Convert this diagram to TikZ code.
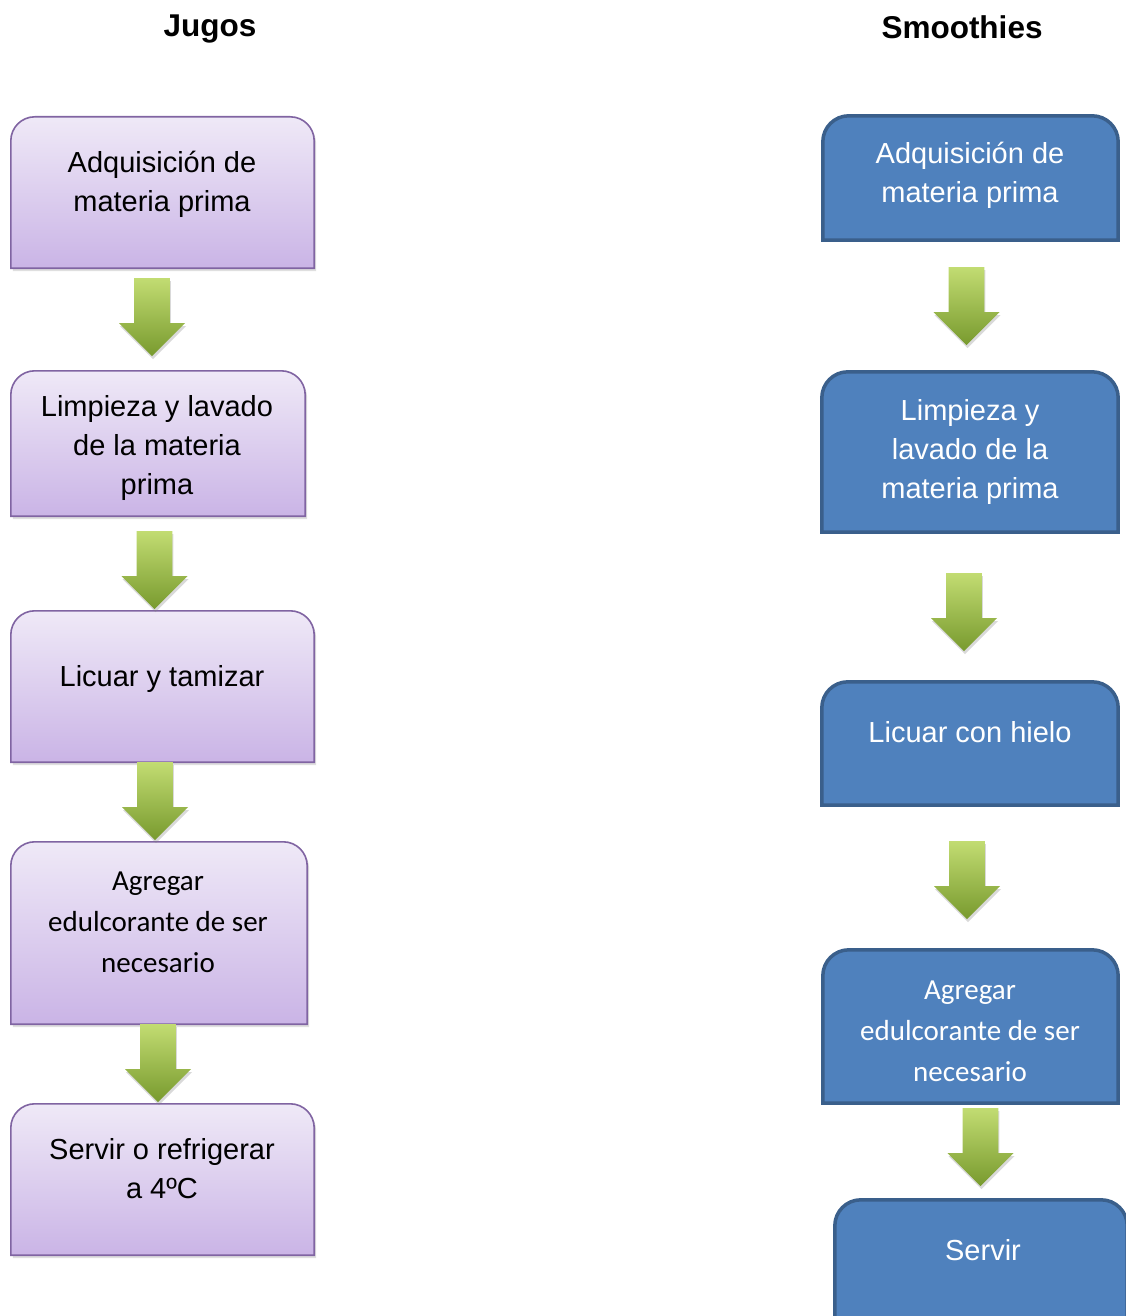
\documentclass[tikz,border=0pt]{standalone}
\usepackage{fontspec}
\setmainfont{Liberation Sans}
\newfontfamily\calfont{Carlito}
\usepackage{tikz}
\usetikzlibrary{shapes.arrows}
\usetikzlibrary{shadows}
\usepackage{xcolor}

\definecolor{lilatop}{HTML}{EFE9F7}
\definecolor{lilabot}{HTML}{CAB4E6}
\definecolor{lilaline}{HTML}{8064A2}
\definecolor{azulfill}{HTML}{4F81BD}
\definecolor{azulline}{HTML}{3A5F8B}
\definecolor{verdetop}{HTML}{C2DC72}
\definecolor{verdebot}{HTML}{789A2E}

% box outline with rounded top corners only
\newcommand{\topround}[3]{%
  \path[#1] (#2.south west) -- ([yshift=-#3]#2.north west)
    arc[start angle=180,end angle=90,radius=#3]
    -- ([xshift=-#3]#2.north east)
    arc[start angle=90,end angle=0,radius=#3]
    -- (#2.south east) -- cycle;}

\begin{document}
\begin{tikzpicture}[x=1pt,y=-1pt]
    \tikzstyle{box} = [rectangle,inner sep=0pt]
    \tikzstyle{jshape} = [draw=lilaline,line width=1.6pt,top color=lilatop,bottom color=lilabot,
      drop shadow={opacity=.25,shadow xshift=2pt,shadow yshift=-3pt}]
    \tikzstyle{sshape} = [draw=azulline,line width=3.5pt,fill=azulfill]
    \tikzstyle{down} = [single arrow,shape border rotate=270,single arrow head extend=15pt,
      minimum width=66pt,minimum height=78pt,inner xsep=17.5pt,inner ysep=0pt,anchor=tail,
      top color=verdetop,bottom color=verdebot,
      drop shadow={opacity=.3,shadow xshift=1pt,shadow yshift=-3pt}]
    \tikzstyle{jtxt} = [align=center,font=\fontsize{29}{39}\selectfont]
    \tikzstyle{jcal} = [align=center,font=\calfont\fontsize{29}{41}\selectfont]
    \tikzstyle{title} = [font=\bfseries\fontsize{31.5}{38}\selectfont]
    \useasboundingbox (0,0) rectangle (1125,1316);
    %%
    \node [title] (tj) at (210,29) {Jugos};
    \node [title] (ts) at (962,27) {Smoothies};
    %%
    \begin{scope}
      \node [box,minimum width=303pt,minimum height=151pt] (j1) at (162.5,192.5) {};
      \node [box,minimum width=294pt,minimum height=145pt] (j2) at (158,443.5) {};
      \node [box,minimum width=303pt,minimum height=151pt] (j3) at (162.5,686.5) {};
      \node [box,minimum width=296pt,minimum height=182pt] (j4) at (159,933) {};
      \node [box,minimum width=303pt,minimum height=151pt] (j5) at (162.5,1179.5) {};
      \topround{jshape}{j1}{24pt} \topround{jshape}{j2}{24pt} \topround{jshape}{j3}{24pt}
      \topround{jshape}{j4}{24pt} \topround{jshape}{j5}{24pt}
      \node [jtxt] (j1t) at (162,184) {Adquisición de\\materia prima};
      \node [jtxt] (j2t) at (157,448) {Limpieza y lavado\\de la materia\\prima};
      \node [jtxt] (j3t) at (162,679) {Licuar y tamizar};
      \node [jcal] (j4t) at (158,922.5) {Agregar\\edulcorante de ser\\necesario};
      \node [jtxt] (j5t) at (162,1168.5) {Servir o refrigerar\\a 4ºC};
      \node [down] (ja1) at (152,278) {};
      \node [down] (ja2) at (154.5,531) {};
      \node [down] (ja3) at (155,762) {};
      \node [down] (ja4) at (158,1024) {};
    \end{scope}
    %%
    \begin{scope}
      \tikzstyle{every node}=[text=white]
      \node [box,minimum width=295pt,minimum height=124pt] (s1) at (970.5,178) {};
      \node [box,minimum width=296pt,minimum height=160pt] (s2) at (970,452) {};
      \node [box,minimum width=296pt,minimum height=123pt] (s3) at (970,743.5) {};
      \node [box,minimum width=295pt,minimum height=153pt] (s4) at (970.5,1026.5) {};
      \node [box,minimum width=292pt,minimum height=153pt] (s5) at (981,1276.5) {};
      \topround{sshape}{s1}{26pt} \topround{sshape}{s2}{26pt} \topround{sshape}{s3}{26pt}
      \topround{sshape}{s4}{26pt} \topround{sshape}{s5}{26pt}
      \node [jtxt] (s1t) at (970,175.5) {Adquisición de\\materia prima};
      \node [jtxt] (s2t) at (970,451.5) {Limpieza y\\lavado de la\\materia prima};
      \node [jtxt] (s3t) at (970,732) {Licuar con hielo};
      \node [jcal] (s4t) at (970,1031) {Agregar\\edulcorante de ser\\necesario};
      \node [jtxt] (s5t) at (983,1250) {Servir};
      \node [down] (sa1) at (966.5,267) {};
      \node [down] (sa2) at (964,573) {};
      \node [down] (sa3) at (967,841) {};
      \node [down] (sa4) at (980.5,1108) {};
    \end{scope}
\end{tikzpicture}
\end{document}
